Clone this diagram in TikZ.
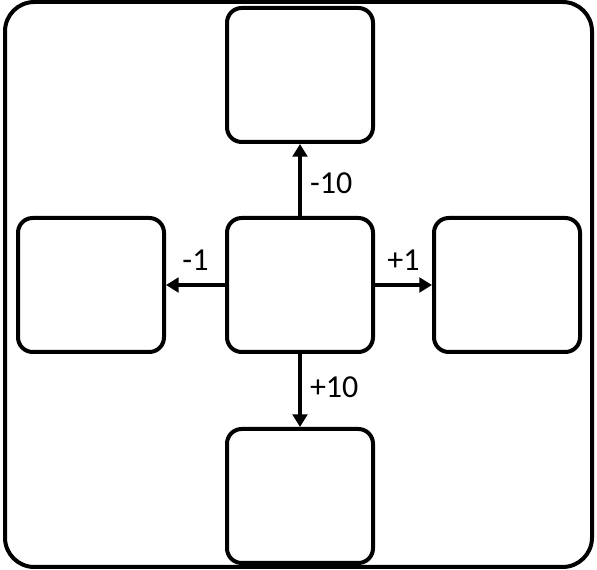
\documentclass[tikz,border=0pt]{standalone}
\usepackage{fontspec}
\setmainfont{Carlito}
\usetikzlibrary{arrows.meta}
\tikzset{
  cellbox/.style={draw=black,fill=white,rounded corners=11pt,line width=3pt,
    minimum width=109.5pt,minimum height=100.5pt,inner sep=0pt},
  framebox/.style={draw=black,rounded corners=22pt,line width=3pt},
  movearrow/.style={-{Triangle[length=9.5pt,width=11pt]},line width=3pt},
  movelabel/.style={font=\fontsize{24}{28}\selectfont,inner sep=6pt}
}

\begin{document}
\begin{tikzpicture}[x=0.75pt,y=-0.75pt]
  \useasboundingbox (0,0) rectangle (597,570);
  \draw[framebox] (5,2) rectangle (592,567);
  \node[cellbox] (mid) at (300,285) {};
  \node[cellbox] (up) at (300,75) {};
  \node[cellbox] (down) at (300,496) {};
  \node[cellbox] (left) at (91,285) {};
  \node[cellbox] (right) at (507,285) {};
  \draw[movearrow] (mid.north) -- node[movelabel,right,pos=0.45] {-10} (up.south);
  \draw[movearrow] (mid.south) -- node[movelabel,right,pos=0.45] {+10} (down.north);
  \draw[movearrow] (mid.west) -- node[movelabel,above,inner sep=9pt] {-1} (left.east);
  \draw[movearrow] (mid.east) -- node[movelabel,above,inner sep=9pt] {+1} (right.west);
\end{tikzpicture}
\end{document}
